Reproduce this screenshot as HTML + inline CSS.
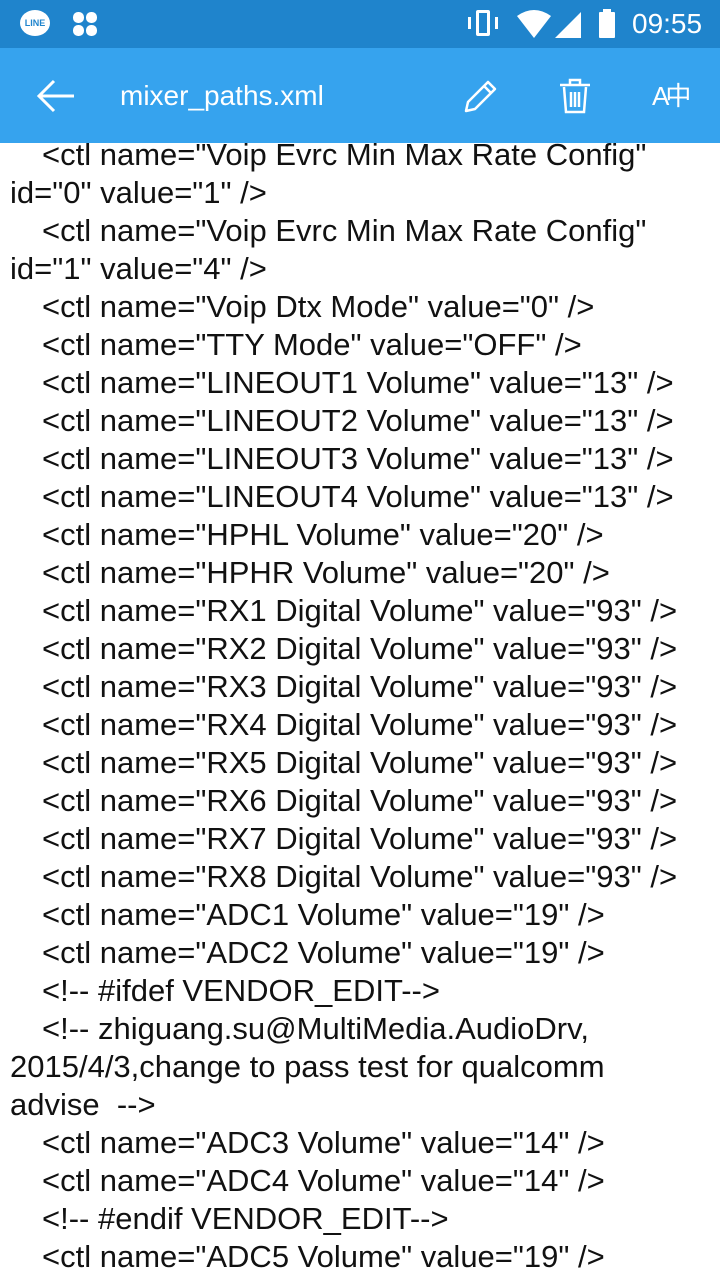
<!DOCTYPE html>
<html><head><meta charset="utf-8"><style>
*{margin:0;padding:0}
body{width:720px;height:1280px;overflow:hidden;background:#fff;position:relative;font-family:"Liberation Sans",sans-serif}
#sb{position:absolute;left:0;top:0;width:720px;height:48px;background:#1F84CC;color:#fff}
#tb{position:absolute;left:0;top:48px;width:720px;height:95px;background:#36A3EE;color:#fff}
#txt{position:absolute;left:10px;top:136px;font-size:31px;line-height:38px;color:#111;white-space:pre;z-index:0}
#txt div.i{padding-left:32px}
#sb,#tb{z-index:2}
</style></head><body>
<div id="txt"><div class="i">&lt;ctl name="Voip Evrc Min Max Rate Config"</div><div>id="0" value="1" /&gt;</div><div class="i">&lt;ctl name="Voip Evrc Min Max Rate Config"</div><div>id="1" value="4" /&gt;</div><div class="i">&lt;ctl name="Voip Dtx Mode" value="0" /&gt;</div><div class="i">&lt;ctl name="TTY Mode" value="OFF" /&gt;</div><div class="i">&lt;ctl name="LINEOUT1 Volume" value="13" /&gt;</div><div class="i">&lt;ctl name="LINEOUT2 Volume" value="13" /&gt;</div><div class="i">&lt;ctl name="LINEOUT3 Volume" value="13" /&gt;</div><div class="i">&lt;ctl name="LINEOUT4 Volume" value="13" /&gt;</div><div class="i">&lt;ctl name="HPHL Volume" value="20" /&gt;</div><div class="i">&lt;ctl name="HPHR Volume" value="20" /&gt;</div><div class="i">&lt;ctl name="RX1 Digital Volume" value="93" /&gt;</div><div class="i">&lt;ctl name="RX2 Digital Volume" value="93" /&gt;</div><div class="i">&lt;ctl name="RX3 Digital Volume" value="93" /&gt;</div><div class="i">&lt;ctl name="RX4 Digital Volume" value="93" /&gt;</div><div class="i">&lt;ctl name="RX5 Digital Volume" value="93" /&gt;</div><div class="i">&lt;ctl name="RX6 Digital Volume" value="93" /&gt;</div><div class="i">&lt;ctl name="RX7 Digital Volume" value="93" /&gt;</div><div class="i">&lt;ctl name="RX8 Digital Volume" value="93" /&gt;</div><div class="i">&lt;ctl name="ADC1 Volume" value="19" /&gt;</div><div class="i">&lt;ctl name="ADC2 Volume" value="19" /&gt;</div><div class="i">&lt;!-- #ifdef VENDOR_EDIT--&gt;</div><div class="i">&lt;!-- zhiguang.su@MultiMedia.AudioDrv,</div><div>2015/4/3,change to pass test for qualcomm</div><div>advise  --&gt;</div><div class="i">&lt;ctl name="ADC3 Volume" value="14" /&gt;</div><div class="i">&lt;ctl name="ADC4 Volume" value="14" /&gt;</div><div class="i">&lt;!-- #endif VENDOR_EDIT--&gt;</div><div class="i">&lt;ctl name="ADC5 Volume" value="19" /&gt;</div></div>
<div id="sb">
 <div style="position:absolute;left:20px;top:10px;width:30px;height:26px;border-radius:50%;background:#fff;color:#1F84CC;font-size:9px;font-weight:bold;text-align:center;line-height:26px">LINE</div>
 <div style="position:absolute;left:73px;top:12px;width:24px;height:24px">
  <div style="position:absolute;left:0;top:0;width:11px;height:11px;border-radius:5px;background:#fff"></div>
  <div style="position:absolute;left:13px;top:0;width:11px;height:11px;border-radius:5px;background:#fff"></div>
  <div style="position:absolute;left:0;top:13px;width:11px;height:11px;border-radius:5px;background:#fff"></div>
  <div style="position:absolute;left:13px;top:13px;width:11px;height:11px;border-radius:5px;background:#fff"></div>
 </div>
 <div style="position:absolute;left:476px;top:10px;width:14px;height:26px;border:3px solid #fff;box-sizing:border-box;border-radius:2px"></div>
 <div style="position:absolute;left:468px;top:17px;width:3px;height:12px;background:#fff"></div>
 <div style="position:absolute;left:495px;top:17px;width:3px;height:12px;background:#fff"></div>
 <svg style="position:absolute;left:515px;top:8px" width="70" height="32"><path d="M2 8 Q19 -4 36 8 L19 30 Z" fill="#fff"/><path d="M66 4 L66 30 L40 30 Z" fill="#fff"/></svg>
 <div style="position:absolute;left:599px;top:12px;width:16px;height:26px;background:#fff;border-radius:1px"></div>
 <div style="position:absolute;left:603px;top:9px;width:8px;height:4px;background:#fff"></div>
 <div style="position:absolute;left:632px;top:7px;font-size:28px;line-height:34px">09:55</div>
</div>
<div id="tb">
 <svg style="position:absolute;left:36px;top:30px" width="40" height="36"><path d="M38 18 H4 M18 3 L3 18 L18 33" stroke="#fff" stroke-width="3" fill="none"/></svg>
 <div style="position:absolute;left:120px;top:31px;font-size:28px;line-height:34px">mixer_paths.xml</div>
 <svg style="position:absolute;left:460px;top:30px" width="40" height="40"><path d="M6 33 L8 24 L28 4 L35 11 L15 31 Z M24 8 L31 15" stroke="#fff" stroke-width="2.5" fill="none" stroke-linejoin="round"/></svg>
 <svg style="position:absolute;left:556px;top:28px" width="40" height="40"><path d="M4 9 H34 M14 9 V4 H24 V9 M8 11 L10 36 H28 L30 11 M15 16 V31 M19 16 V31 M23 16 V31" stroke="#fff" stroke-width="2.5" fill="none"/></svg>
 <div style="position:absolute;left:652px;top:32px;font-size:26px;line-height:32px;letter-spacing:-4px">A中</div>
</div>
</body></html>
